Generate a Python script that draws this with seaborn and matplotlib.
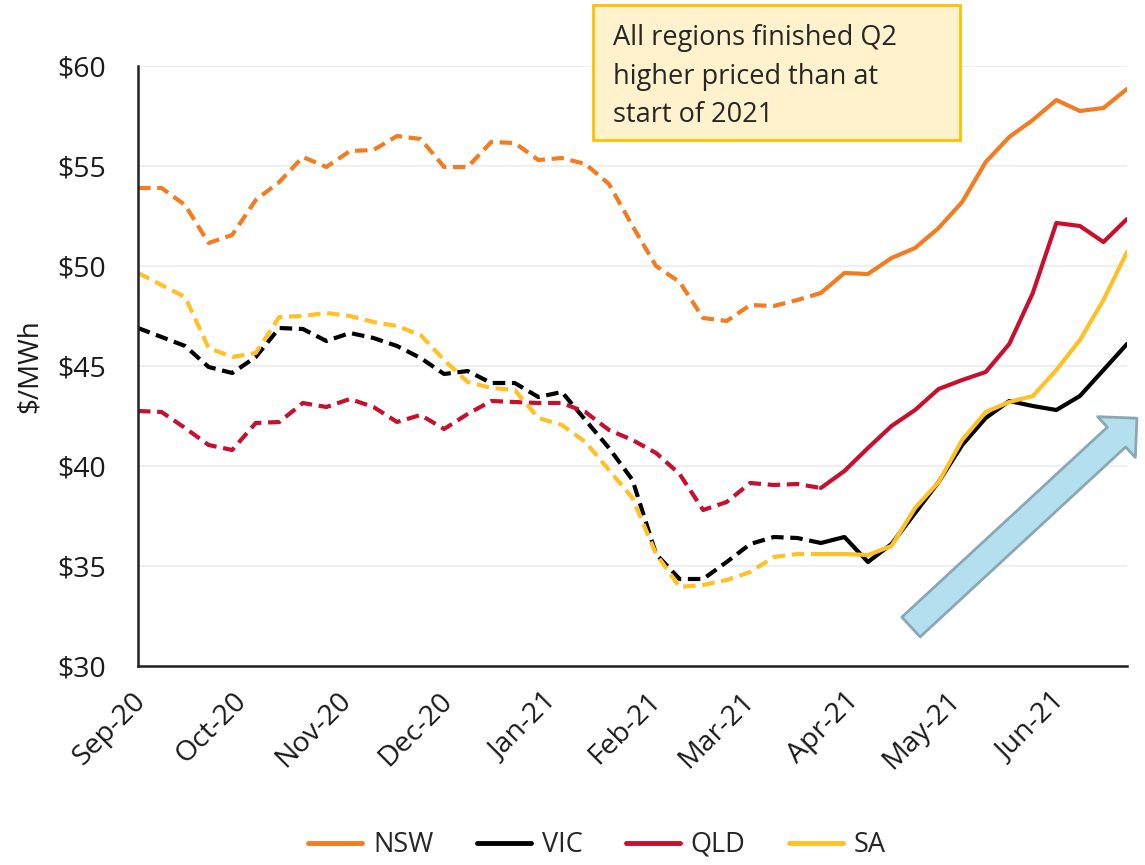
import numpy as np
import pandas as pd
import matplotlib
matplotlib.use("Agg")
import matplotlib.pyplot as plt
import matplotlib.dates as mdates
import matplotlib.patches as mpatches
import matplotlib.transforms as mtransforms
from matplotlib.lines import Line2D
from matplotlib.ticker import FuncFormatter
import seaborn as sns

# --- weekly wholesale futures prices ($/MWh), Sep-20 to Jun-21 ---
dates = pd.date_range("2020-09-01", periods=43, freq="7D")

nsw = [53.9, 53.9, 53.05, 51.15, 51.55, 53.3, 54.2, 55.45, 54.95, 55.75,
       55.8, 56.5, 56.35, 54.95, 54.95, 56.2, 56.15, 55.3, 55.4, 55.1,
       54.1, 52.0, 50.0, 49.2, 47.4, 47.25, 48.05, 48.0, 48.3, 48.65,
       49.65, 49.6, 50.4, 50.9, 51.9, 53.2, 55.2, 56.45, 57.3, 58.3,
       57.75, 57.9, 58.85]
vic = [46.9, 46.45, 46.0, 44.95, 44.65, 45.45, 46.9, 46.85, 46.25, 46.65,
       46.4, 46.0, 45.4, 44.6, 44.75, 44.15, 44.15, 43.45, 43.7, 42.3,
       40.9, 39.3, 35.6, 34.35, 34.35, 35.2, 36.1, 36.45, 36.4, 36.15,
       36.45, 35.2, 36.1, 37.65, 39.2, 41.05, 42.4, 43.25, 43.0, 42.8,
       43.5, 44.8, 46.1]
qld = [42.75, 42.7, 41.9, 41.05, 40.8, 42.15, 42.2, 43.15, 42.95, 43.35,
       42.95, 42.2, 42.55, 41.85, 42.6, 43.25, 43.2, 43.15, 43.15, 42.7,
       41.8, 41.3, 40.65, 39.6, 37.8, 38.2, 39.15, 39.05, 39.1, 38.9,
       39.75, 40.9, 42.0, 42.8, 43.85, 44.3, 44.7, 46.1, 48.65, 52.15,
       52.0, 51.2, 52.35]
sa = [49.65, 49.05, 48.45, 45.9, 45.45, 45.65, 47.45, 47.5, 47.65, 47.5,
      47.2, 47.0, 46.55, 45.3, 44.2, 43.9, 43.8, 42.4, 42.05, 41.2,
      39.8, 38.4, 35.6, 33.95, 34.05, 34.3, 34.7, 35.45, 35.6, 35.6,
      35.6, 35.55, 36.0, 37.9, 39.2, 41.3, 42.7, 43.2, 43.5, 44.8,
      46.3, 48.3, 50.7]

regions = ["NSW", "VIC", "QLD", "SA"]
series = {"NSW": nsw, "VIC": vic, "QLD": qld, "SA": sa}
colors = {"NSW": "#F47C20", "VIC": "#000000", "QLD": "#C8102E", "SA": "#FFC125"}
split = 29  # dashed (historical) up to this week, solid afterwards

note = "All regions finished Q2\nhigher priced than at\nstart of 2021"

sns.set_style("white")
plt.rcParams["font.family"] = ["Open Sans", "DejaVu Sans"]

fig = plt.figure(figsize=(11.45, 8.65), dpi=100)
ax = fig.add_axes([138 / 1145, 1 - 666 / 865, (1127 - 138) / 1145, 600 / 865])

for r in regions:
    df = pd.DataFrame({"date": dates, "price": series[r]})
    sns.lineplot(data=df.iloc[:split + 1], x="date", y="price", ax=ax,
                 color=colors[r], linewidth=3, linestyle=(0, (3, 1.6)))
    sns.lineplot(data=df.iloc[split:], x="date", y="price", ax=ax,
                 color=colors[r], linewidth=3)

ax.set_ylim(30, 60)
ax.set_xlim(dates[0], dates[-1])
ax.set_yticks(np.arange(30, 61, 5))
ax.yaxis.set_major_formatter(FuncFormatter(lambda v, p: f"${v:.0f}"))
ax.xaxis.set_major_locator(mdates.MonthLocator())
ax.xaxis.set_major_formatter(mdates.DateFormatter("%b-%y"))
ax.grid(axis="y", color="#EFEFEF", linewidth=1.5)
ax.set_axisbelow(True)

for s in ["top", "right"]:
    ax.spines[s].set_visible(False)
for s in ["left", "bottom"]:
    ax.spines[s].set_color("#222222")
    ax.spines[s].set_linewidth(1.8)

ax.tick_params(axis="both", direction="out", length=7, width=1.5,
               color="#222222", labelsize=20.5, labelcolor="#1a1a1a")
ax.tick_params(axis="y", pad=16)
ax.tick_params(axis="x", pad=8)
shift = mtransforms.ScaledTranslation(-6 / 100, 0, fig.dpi_scale_trans)
for lab in ax.get_xticklabels():
    lab.set_rotation(45)
    lab.set_ha("right")
    lab.set_rotation_mode("anchor")
    lab.set_transform(lab.get_transform() + shift)
ax.set_xlabel("")
ax.set_ylabel("$/MWh", fontsize=20, color="#1a1a1a", labelpad=10)

# call-out box
fig.add_artist(mpatches.Rectangle((593 / 1145, 1 - 140 / 865), 367 / 1145, 135 / 865,
                                  transform=fig.transFigure, facecolor="#FFF2CC",
                                  edgecolor="#FFC000", linewidth=2))
fig.text(613 / 1145, 1 - 77 / 865, note, fontsize=19.5, color="#262626",
         va="center", ha="left", linespacing=1.5)

# trend arrow
ax.annotate("", xy=(1.010, 0.413), xytext=(0.7816, 0.065),
            xycoords="axes fraction", textcoords="axes fraction",
            annotation_clip=False,
            arrowprops=dict(arrowstyle="simple,head_length=1.0,head_width=2.0,tail_width=0.97",
                            mutation_scale=20, facecolor="#B3DFEE",
                            edgecolor="#8AA8B3", linewidth=2,
                            shrinkA=0, shrinkB=0))

handles = [Line2D([0], [0], color=colors[r], linewidth=3.5) for r in regions]
fig.legend(handles, regions, loc="center", bbox_to_anchor=(597 / 1145, 1 - 845 / 865),
           ncol=4, frameon=False, fontsize=19.5, handlelength=2.0,
           columnspacing=1.6, handletextpad=0.4)

fig.savefig("out.png", dpi=100)
